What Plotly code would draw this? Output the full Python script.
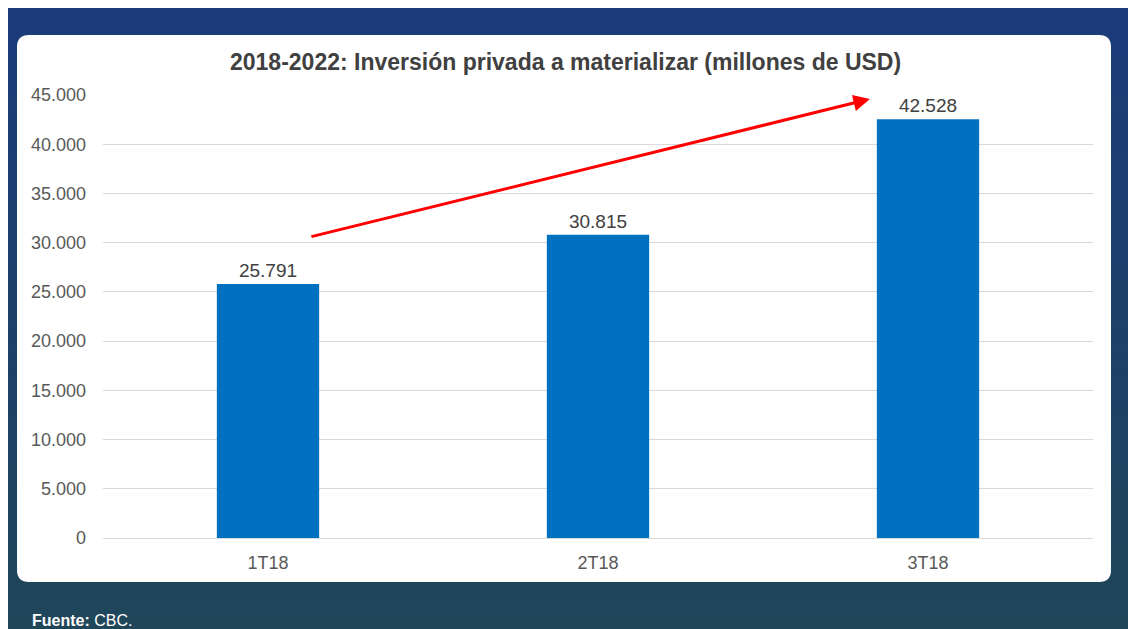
import plotly.graph_objects as go

categories = ["1T18", "2T18", "3T18"]
values = [25791, 30815, 42528]
tick_vals = [0, 5000, 10000, 15000, 20000, 25000, 30000, 35000, 40000, 45000]

# page body adds an 8px margin; figure is sized to fit inside the window
W, H = 1128, 621
L, R, T, B = 95, 43, 87, 91

FONT = "Liberation Sans, Arial"

fig = go.Figure()
fig.add_trace(go.Bar(
    x=list(range(len(categories))), y=values,
    marker=dict(color="#0070c0", line=dict(width=0)),
    width=0.31,
    text=[f"{v:,}".replace(",", ".") for v in values],
    textposition="outside",
    textfont=dict(family=FONT, size=19, color="#404040"),
    cliponaxis=False,
))

def px(x):
    return (x - L) / (W - L - R)
def py(y):
    return (H - B - y) / (H - T - B)

shapes = []
# gradient background
n = 60
c0 = (27, 59, 122)
c1 = (31, 70, 89)
for i in range(n):
    t = i / (n - 1)
    c = tuple(round(c0[k] + (c1[k] - c0[k]) * t) for k in range(3))
    y_top = H * i / n
    y_bot = H * (i + 1) / n
    shapes.append(dict(type="rect", xref="paper", yref="paper", layer="below",
                       x0=px(-2), x1=px(W + 2),
                       y0=py(y_bot + 0.5), y1=py(y_top - 0.5),
                       fillcolor="rgb(%d,%d,%d)" % c, line=dict(width=0)))

# white rounded panel
x0p, x1p, y0p, y1p, r = 9, 1103, 27, 574, 12
path = (f"M {px(x0p + r)},{py(y0p)} L {px(x1p - r)},{py(y0p)} "
        f"Q {px(x1p)},{py(y0p)} {px(x1p)},{py(y0p + r)} "
        f"L {px(x1p)},{py(y1p - r)} Q {px(x1p)},{py(y1p)} {px(x1p - r)},{py(y1p)} "
        f"L {px(x0p + r)},{py(y1p)} Q {px(x0p)},{py(y1p)} {px(x0p)},{py(y1p - r)} "
        f"L {px(x0p)},{py(y0p + r)} Q {px(x0p)},{py(y0p)} {px(x0p + r)},{py(y0p)} Z")
shapes.append(dict(type="path", xref="paper", yref="paper", layer="below", path=path,
                   fillcolor="white", line=dict(width=0)))

fig.update_layout(
    width=W, height=H,
    margin=dict(l=L, r=R, t=T, b=B),
    paper_bgcolor="#1d4068",
    plot_bgcolor="rgba(0,0,0,0)",
    separators=",.",
    showlegend=False,
    shapes=shapes,
    font=dict(family=FONT, color="#595959"),
    xaxis=dict(tickmode="array", tickvals=list(range(len(categories))), ticktext=categories,
               range=[-0.5, 2.5], showgrid=False, zeroline=False, showline=False,
               tickfont=dict(size=18, color="#595959"), ticks="", ticklabelstandoff=12),
    yaxis=dict(range=[0, 45000], tickvals=tick_vals, tickformat=",d",
               showgrid=True, gridcolor="#d9d9d9", gridwidth=1,
               zeroline=True, zerolinecolor="#d9d9d9", zerolinewidth=1,
               tickfont=dict(size=18, color="#595959"), ticks="", ticklabelstandoff=16),
    annotations=[
        dict(text="<b>2018-2022: Inversión privada a materializar (millones de USD)</b>",
             xref="paper", yref="paper", x=px(557), y=py(54), xanchor="center", yanchor="middle",
             showarrow=False, font=dict(size=23, color="#404040", family=FONT)),
        dict(text="<b>Fuente:</b> CBC.", xref="paper", yref="paper", x=px(22), y=py(612),
             xanchor="left", yanchor="middle", showarrow=False,
             font=dict(size=16, color="white", family=FONT)),
        dict(x=1.824, y=44594, ax=0.127, ay=30576, xref="x", yref="y", axref="x", ayref="y",
             showarrow=True, arrowhead=2, arrowsize=1.1, arrowwidth=3, arrowcolor="#ff0000", text=""),
    ],
)

fig.write_html("out.html")
